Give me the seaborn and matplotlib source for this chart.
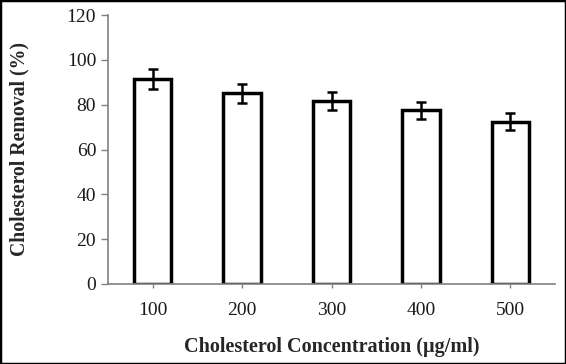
import matplotlib
matplotlib.use("Agg")
import matplotlib.pyplot as plt
import seaborn as sns
import pandas as pd
from matplotlib.patches import Rectangle

concentrations = ["100", "200", "300", "400", "500"]
removal = [91.6, 85.0, 81.7, 77.5, 72.4]
removal_err = [4.4, 4.3, 4.1, 3.9, 3.8]

df = pd.DataFrame({"conc": concentrations, "removal": removal})

sns.set_style("white")
plt.rcParams["font.family"] = ["Liberation Serif", "DejaVu Serif"]

fig = plt.figure(figsize=(5.66, 3.64), dpi=100)
ax = fig.add_axes([108 / 566, 1 - 284 / 364, (555 - 108) / 566, (284 - 15) / 364])

sns.barplot(data=df, x="conc", y="removal", color="white", edgecolor="black",
            linewidth=2.5, width=0.42, errorbar=None, ax=ax)
ax.errorbar(range(len(concentrations)), removal, yerr=removal_err, fmt="none",
            ecolor="black", elinewidth=1.8, capsize=3.3, capthick=1.8)

ax.set_ylim(0, 120)
ax.set_xlim(-0.5, len(concentrations) - 0.5)
ax.set_yticks(range(0, 121, 20))
ax.set_xlabel("Cholesterol Concentration (µg/ml)", fontsize=14.5, fontweight="bold", labelpad=13)
ax.set_ylabel("Cholesterol Removal (%)", fontsize=14.2, fontweight="bold", labelpad=27)
ax.tick_params(axis="both", labelsize=14, colors="#1a1a1a")
ax.tick_params(axis="y", direction="out", length=5, width=1, color="#808080", left=True)
ax.tick_params(axis="x", direction="out", length=3, width=1, color="#808080", bottom=True, pad=10)

sns.despine(ax=ax)
for side in ["left", "bottom"]:
    ax.spines[side].set_color("#808080")
    ax.spines[side].set_linewidth(1.2)

fig.patches.append(Rectangle((0, 0), 1, 1, transform=fig.transFigure, fill=False,
                             edgecolor="black", linewidth=2.5))

fig.savefig("out.png", dpi=100)
